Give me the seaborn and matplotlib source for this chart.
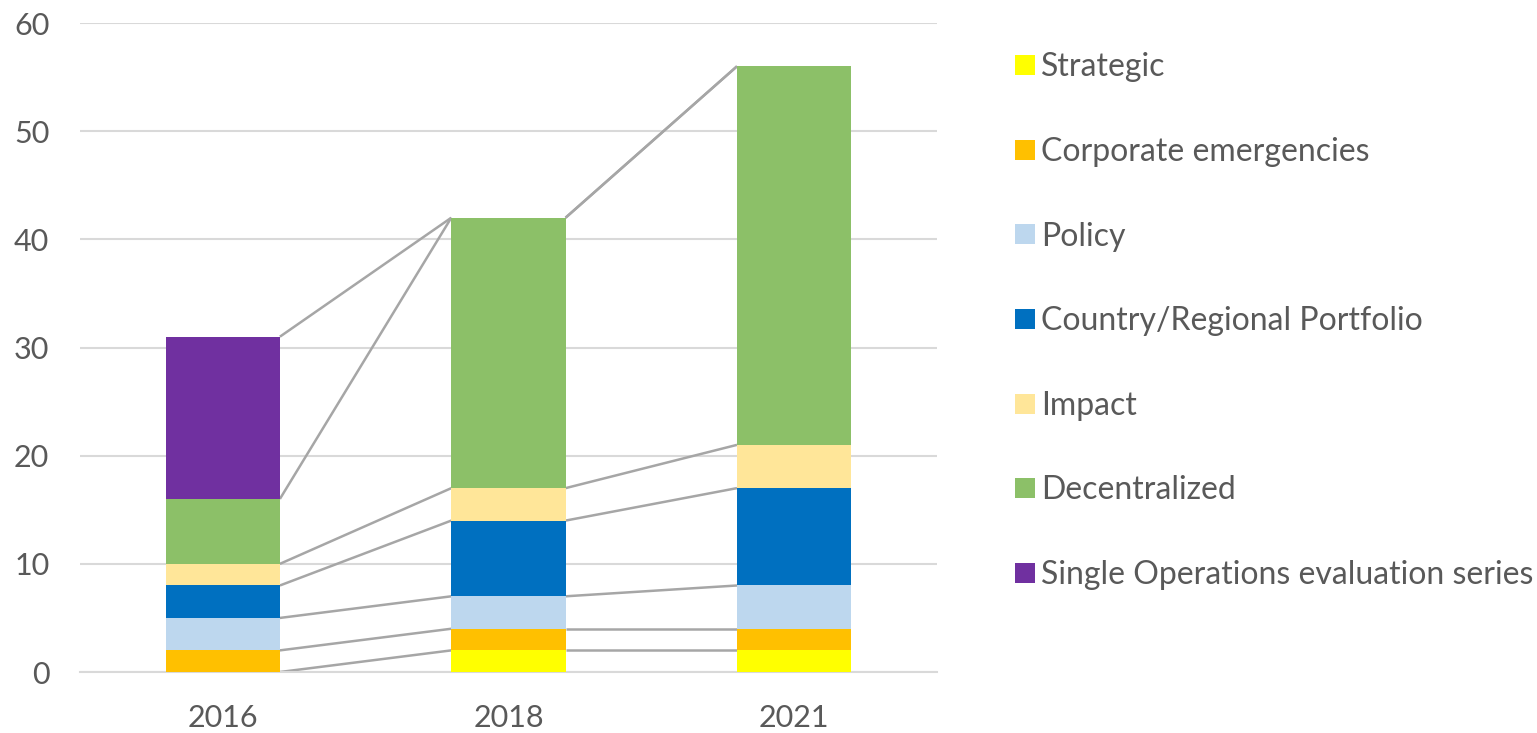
import matplotlib
matplotlib.use("Agg")
import matplotlib.pyplot as plt
import seaborn as sns
import numpy as np
import pandas as pd
from matplotlib.lines import Line2D

years = ["2016", "2018", "2021"]
series = ["Strategic", "Corporate emergencies", "Policy", "Country/Regional Portfolio",
          "Impact", "Decentralized", "Single Operations evaluation series"]
strategic = [0, 2, 2]
corporate = [2, 2, 2]
policy = [3, 3, 4]
country = [3, 7, 9]
impact = [2, 3, 4]
decentralized = [6, 25, 35]
single_ops = [15, 0, 0]
colors = ["#FFFF00", "#FFC000", "#BDD7EE", "#0070C0", "#FFE699", "#8CC068", "#7030A0"]

values = [strategic, corporate, policy, country, impact, decentralized, single_ops]
cum = np.cumsum(np.array(values, dtype=float), axis=0)

sns.set_theme(style="white")
plt.rcParams['font.family'] = ['Lato', 'DejaVu Sans']
text_color = "#595959"

fig = plt.figure(figsize=(15.37, 7.33), dpi=100)
ax = fig.add_axes([0.052, 0.0832, 0.5576, 0.8854])

bar_w = 0.4
for k in range(len(series) - 1, -1, -1):
    df = pd.DataFrame({"year": years, "val": cum[k]})
    sns.barplot(data=df, x="year", y="val", order=years, color=colors[k],
                width=bar_w, saturation=1, ax=ax, zorder=3, linewidth=0)

# series lines
for k in range(len(series)):
    for i in range(len(years) - 1):
        ax.plot([i + bar_w / 2, i + 1 - bar_w / 2], [cum[k][i], cum[k][i + 1]],
                color="#A6A6A6", lw=1.8, zorder=2, solid_capstyle="butt")

ax.set_xlim(-0.5, 2.5)
ax.set_ylim(0, 60)
ax.set_yticks(range(0, 61, 10))
ax.yaxis.grid(True, color="#D9D9D9", lw=1.5, zorder=0)
ax.set_axisbelow(True)
for s in ["left", "right", "top"]:
    ax.spines[s].set_visible(False)
ax.spines["bottom"].set_color("#D9D9D9")
ax.spines["bottom"].set_linewidth(1.5)
ax.tick_params(axis="both", length=0, labelsize=22, colors=text_color)
ax.tick_params(axis="y", pad=22)
ax.tick_params(axis="x", pad=23)
ax.set_xlabel("")
ax.set_ylabel("")

handles = [Line2D([], [], marker="s", linestyle="", markersize=14,
                  markerfacecolor=c, markeredgewidth=0) for c in colors]
leg = fig.legend(handles, series, loc="upper left", bbox_to_anchor=(0.649, 0.946),
                 frameon=False, fontsize=23, labelspacing=1.71, handletextpad=0.05,
                 handlelength=0.9, borderaxespad=0)
for t in leg.get_texts():
    t.set_color(text_color)

fig.savefig("out.png", dpi=100)
